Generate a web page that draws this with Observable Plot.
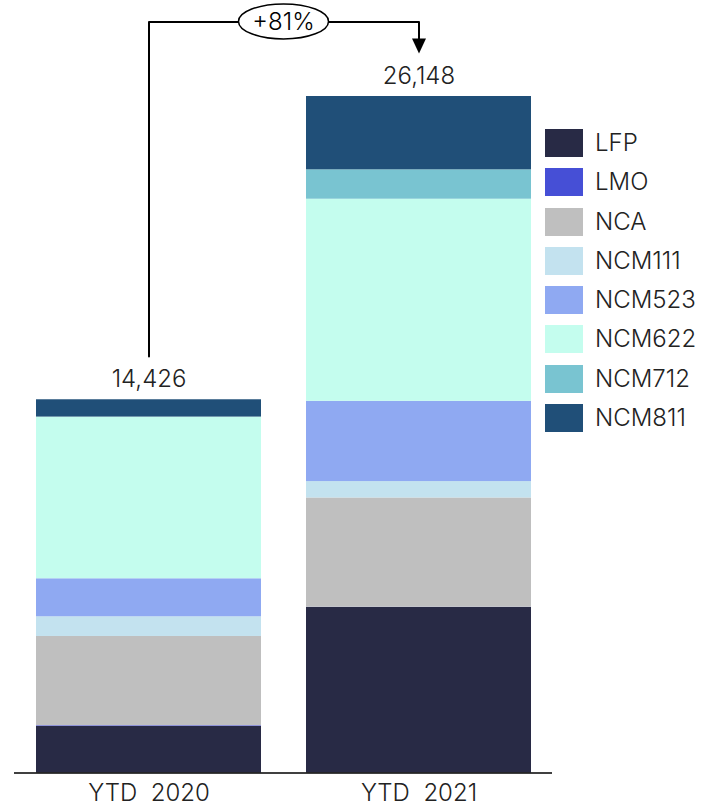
<!DOCTYPE html>
<html>
<head>
<meta charset="utf-8">
<script src="https://cdn.jsdelivr.net/npm/d3@7"></script>
<script src="https://cdn.jsdelivr.net/npm/@observablehq/plot@0.6"></script>
<style>
  html, body { margin: 0; padding: 0; background: #fff; }
  #wrap { position: relative; width: 713px; height: 809px; font-family: Inter, "Noto Sans", sans-serif; }
  #wrap svg text { white-space: pre; }
  .legend { position: absolute; left: 545px; top: 129px; }
  .row { position: relative; height: 39.3px; }
  .sw { position: absolute; left: 0; top: 0; width: 38px; height: 28px; }
  .lab { position: absolute; left: 50px; top: 14px; transform: translateY(-50%); font-size: 24px; color: #222; font-weight: 300; white-space: nowrap; line-height: 1; }
</style>
</head>
<body>
<div id="wrap"></div>
<script>
// ---- data ----
const years = ["YTD  2020", "YTD  2021"];
const chemistries = ["LFP", "LMO", "NCA", "NCM111", "NCM523", "NCM622", "NCM712", "NCM811"];
const colors = ["#282a45", "#464fd6", "#bfbfbf", "#c3e2ef", "#8fa9f2", "#c4fdee", "#79c4d1", "#204f78"];
const values2020 = [1797, 28, 3452, 761, 1469, 6250, 0, 669];
const values2021 = [6397, 9, 4224, 634, 3104, 7810, 1136, 2834];
const totals = [14426, 26148];
const totalLabels = ["14,426", "26,148"];
const growthLabel = "+81%";
// annotation levels (in data units)
const bracketStart = 16100;
const bracketTop = 29030;
const arrowTip = 27810;

const rows = [];
chemistries.forEach((c, i) => {
  rows.push({year: years[0], chem: c, value: values2020[i]});
  rows.push({year: years[1], chem: c, value: values2021[i]});
});
const totalRows = years.map((y, i) => ({year: y, total: totals[i], label: totalLabels[i]}));
const bracket = [
  {x: years[0], y: bracketStart},
  {x: years[0], y: bracketTop},
  {x: years[1], y: bracketTop},
  {x: years[1], y: arrowTip + 400}
];

const arrowSymbol = {
  draw(ctx) {
    ctx.moveTo(-7, -15);
    ctx.lineTo(7, -15);
    ctx.lineTo(0, 0);
    ctx.closePath();
  }
};

const plot = Plot.plot({
  width: 713,
  height: 809,
  marginLeft: 14,
  marginRight: 161,
  marginTop: 0,
  marginBottom: 36.5,
  style: {fontFamily: "Inter, 'Noto Sans', sans-serif", fontSize: "24px", color: "#222", fontWeight: 300, background: "#fff"},
  x: {domain: years, paddingInner: 0.1667, paddingOuter: 0.0796, tickSize: 0, tickPadding: 11, label: null},
  y: {domain: [0, 26148], range: [772.5, 96], axis: null},
  color: {domain: chemistries, range: colors},
  marks: [
    Plot.barY(rows, {x: "year", y: "value", fill: "chem", order: chemistries}),
    Plot.ruleY([0], {stroke: "#000", strokeWidth: 1.5}),
    Plot.text(totalRows, {x: "year", y: "total", text: "label", dy: -20, fontSize: 24, fill: "#222"}),
    Plot.line(bracket, {x: "x", y: "y", stroke: "#000", strokeWidth: 2, curve: "linear"}),
    Plot.dot([{x: years[1], y: arrowTip}], {x: "x", y: "y", symbol: arrowSymbol, fill: "#000", stroke: "none"})
  ]
});

// growth ellipse placed between the two bars using the plot's scales
const xs = plot.scale("x"), ys = plot.scale("y");
const cx = (xs.apply(years[0]) + xs.apply(years[1])) / 2 + xs.bandwidth / 2;
const cy = ys.apply(bracketTop);
const svg = d3.select(plot);
svg.append("ellipse").attr("cx", cx).attr("cy", cy).attr("rx", 45).attr("ry", 17.5)
  .attr("fill", "#fff").attr("stroke", "#000").attr("stroke-width", 1.5);
svg.append("text").attr("x", cx).attr("y", cy).attr("dy", "0.35em")
  .attr("text-anchor", "middle").attr("font-size", 24).attr("fill", "#000").text(growthLabel);

const wrap = document.getElementById("wrap");
wrap.appendChild(plot);

const legend = document.createElement("div");
legend.className = "legend";
chemistries.forEach((c, i) => {
  const r = document.createElement("div");
  r.className = "row";
  r.innerHTML = `<div class="sw" style="background:${colors[i]}"></div><div class="lab">${c}</div>`;
  legend.appendChild(r);
});
wrap.appendChild(legend);
</script>
</body>
</html>
